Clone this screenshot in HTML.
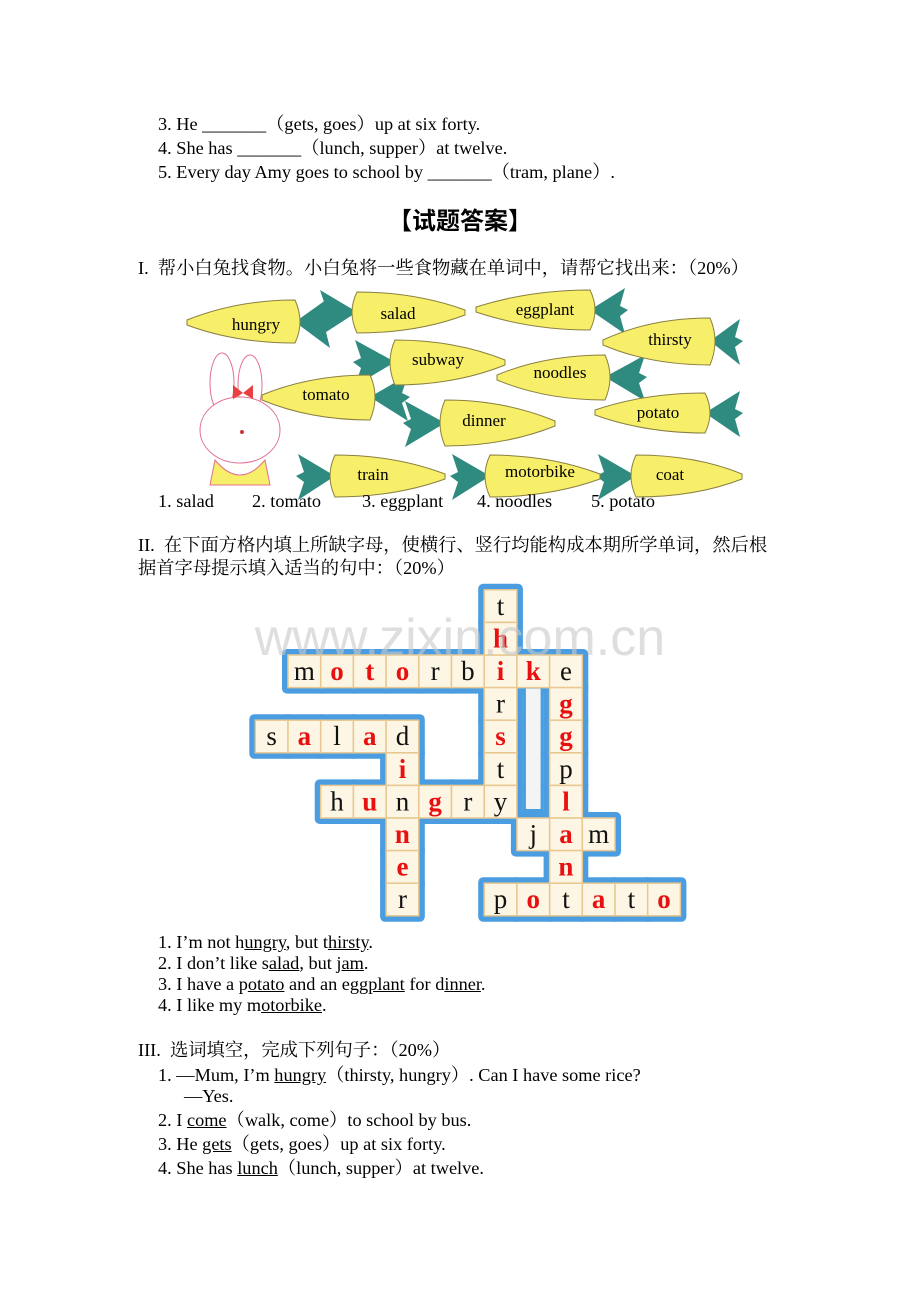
<!DOCTYPE html>
<html><head><meta charset="utf-8"><style>
body{margin:0;background:#fff;width:920px;height:1302px;position:relative;overflow:hidden;font-family:"Liberation Serif","Noto Serif CJK SC",serif;font-size:18.3px;color:#000}
.t{position:absolute;white-space:nowrap;line-height:20px}
u{text-decoration:underline}
</style></head><body>
<div class="t" style="left:158px;top:114px">3. He _______（gets, goes）up at six forty.</div>
<div class="t" style="left:158px;top:138px">4. She has _______（lunch, supper）at twelve.</div>
<div class="t" style="left:158px;top:162px">5. Every day Amy goes to school by _______（tram, plane）.</div>
<div class="t" style="left:0;width:920px;text-align:center;top:206px;font-size:24px;font-weight:bold;line-height:26px;font-family:'Noto Sans CJK SC',sans-serif">【试题答案】</div>
<div class="t" style="left:138px;top:258px">I.&nbsp; 帮小白兔找食物。小白兔将一些食物藏在单词中，请帮它找出来：（20%）</div>

<svg style="position:absolute;left:0;top:0" width="920" height="520" font-family="Liberation Serif" font-size="17">
<g fill="#2f8a80">
<path d="M295,322 l35,-25 l-5,20 l8,5 l-8,6 l5,20z"/>
<path d="M357,312 l-37,-22 l6,18 l-8,4 l8,6 l-6,18z"/>
<path d="M590,310 l35,-22 l-5,18 l8,4 l-8,6 l5,18z"/>
<path d="M710,341 l30,-22 l-5,18 l8,4 l-8,6 l5,18z"/>
<path d="M395,362 l-40,-22 l6,18 l-8,4 l8,6 l-6,18z"/>
<path d="M605,377 l40,-22 l-6,18 l8,4 l-8,6 l6,18z"/>
<path d="M370,397 l38,-22 l-6,18 l8,4 l-8,6 l6,18z"/>
<path d="M445,423 l-40,-22 l6,18 l-8,4 l8,6 l-6,18z"/>
<path d="M705,413 l35,-22 l-5,18 l8,4 l-8,6 l5,18z"/>
<path d="M335,476 l-37,-22 l6,18 l-8,4 l8,6 l-6,18z"/>
<path d="M490,476 l-38,-22 l6,18 l-8,4 l8,6 l-6,18z"/>
<path d="M636,476 l-38,-22 l6,18 l-8,4 l8,6 l-6,18z"/>
</g>
<g fill="#f7ee6a" stroke="#8a8040" stroke-width="1">
<path d="M295,300 q10,22 0,43 q-60,0 -108,-18 l0,-5 q50,-20 108,-20z"/>
<path d="M357,292 q-10,20 0,41 q60,0 108,-18 l0,-5 q-50,-18 -108,-18z"/>
<path d="M590,290 q10,20 0,40 q-60,0 -114,-18 l0,-5 q54,-17 114,-17z"/>
<path d="M710,318 q10,23 0,47 q-60,0 -107,-20 l0,-5 q47,-22 107,-22z"/>
<path d="M395,340 q-10,22 0,45 q60,0 110,-20 l0,-5 q-50,-20 -110,-20z"/>
<path d="M605,355 q10,22 0,45 q-60,0 -108,-20 l0,-5 q48,-20 108,-20z"/>
<path d="M370,375 q10,22 0,45 q-60,0 -108,-20 l0,-5 q48,-20 108,-20z"/>
<path d="M445,400 q-10,23 0,46 q60,0 110,-20 l0,-5 q-50,-21 -110,-21z"/>
<path d="M705,393 q10,20 0,40 q-60,0 -110,-18 l0,-5 q50,-17 110,-17z"/>
<path d="M335,455 q-10,21 0,42 q60,0 110,-18 l0,-5 q-50,-19 -110,-19z"/>
<path d="M490,455 q-10,21 0,42 q60,0 110,-18 l0,-5 q-50,-19 -110,-19z"/>
<path d="M636,455 q-10,21 0,42 q60,0 106,-18 l0,-5 q-46,-19 -106,-19z"/>
</g>
<g text-anchor="middle">
<text x="256" y="330">hungry</text><text x="398" y="319">salad</text>
<text x="545" y="315">eggplant</text><text x="670" y="345">thirsty</text>
<text x="438" y="365">subway</text><text x="560" y="378">noodles</text>
<text x="326" y="400">tomato</text><text x="484" y="426">dinner</text>
<text x="658" y="418">potato</text><text x="373" y="480">train</text>
<text x="540" y="477">motorbike</text><text x="670" y="480">coat</text>
</g>
<g>
<ellipse cx="222" cy="383" rx="12" ry="30" fill="#fff" stroke="#e07090"/>
<ellipse cx="250" cy="385" rx="12" ry="30" fill="#fff" stroke="#e07090"/>
<ellipse cx="240" cy="430" rx="40" ry="33" fill="#fff" stroke="#e07090"/>
<path d="M215,460 q25,30 50,0 l5,25 l-60,0z" fill="#f7ee6a" stroke="#e07090"/>
<path d="M233,385 l10,8 l10,-8 l0,14 l-10,-6 l-10,6z" fill="#e84040"/>
<circle cx="242" cy="432" r="2" fill="#c33"/>
</g>
</svg>

<div class="t" style="left:158px;top:491px">1. salad</div>
<div class="t" style="left:252px;top:491px">2. tomato</div>
<div class="t" style="left:362px;top:491px">3. eggplant</div>
<div class="t" style="left:477px;top:491px">4. noodles</div>
<div class="t" style="left:591px;top:491px">5. potato</div>
<div class="t" style="left:138px;top:535px">II.&nbsp; 在下面方格内填上所缺字母，使横行、竖行均能构成本期所学单词，然后根</div>
<div class="t" style="left:138px;top:558px">据首字母提示填入适当的句中：（20%）</div>

<svg style="position:absolute;left:0;top:0" width="920" height="1302" font-family="Liberation Serif" font-size="27" font-weight="bold">
<g id="cw"></g>
<text x="460" y="655" text-anchor="middle" font-family="Liberation Sans" font-size="52" font-weight="normal" fill="#c8c8c8" fill-opacity="0.6">www.zixin.com.cn</text>
</svg>
<script>
(function(){
var cells=[
[0,0,'m',0],[1,0,'o',1],[2,0,'t',1],[3,0,'o',1],[4,0,'r',0],[5,0,'b',0],[6,0,'i',1],[7,0,'k',1],[8,0,'e',0],
[6,-2,'t',0],[6,-1,'h',1],[6,1,'r',0],[6,2,'s',1],[6,3,'t',0],[6,4,'y',0],
[-1,2,'s',0],[0,2,'a',1],[1,2,'l',0],[2,2,'a',1],[3,2,'d',0],
[3,3,'i',1],[3,4,'n',0],[3,5,'n',1],[3,6,'e',1],[3,7,'r',0],
[1,4,'h',0],[2,4,'u',1],[4,4,'g',1],[5,4,'r',0],
[8,1,'g',1],[8,2,'g',1],[8,3,'p',0],[8,4,'l',1],[8,5,'a',1],[8,6,'n',1],[8,7,'t',0],
[7,5,'j',0],[9,5,'m',0],
[6,7,'p',0],[7,7,'o',1],[9,7,'a',1],[10,7,'t',0],[11,7,'o',1]];
var W=32.7,H=32.6,X0=288,Y0=655,s='';
function px(c){return X0+c*W} function py(r){return Y0+r*H}
cells.forEach(function(a){s+='<rect x="'+(px(a[0])-6)+'" y="'+(py(a[1])-6)+'" width="'+(W+12)+'" height="'+(H+12)+'" rx="5" fill="#4a9de0"/>';});
s+='<rect x="'+(px(7)+6)+'" y="'+(py(1)-2)+'" width="'+(W-12)+'" height="'+(4*H-4)+'" fill="#4a9de0"/><rect x="'+(px(7)+9)+'" y="'+(py(1)+1)+'" width="'+(W-18)+'" height="'+(4*H-10)+'" fill="#f4f4f4"/>';
cells.forEach(function(a){s+='<rect x="'+px(a[0])+'" y="'+py(a[1])+'" width="'+W+'" height="'+H+'" fill="#fdf6e4" stroke="#e8c890" stroke-width="1.5"/>';
s+='<text x="'+(px(a[0])+W/2)+'" y="'+(py(a[1])+25)+'" text-anchor="middle" fill="'+(a[3]?'#e81010':'#111')+'"'+(a[3]?'':' font-weight="normal"')+'>'+a[2]+'</text>';});
document.getElementById('cw').innerHTML=s;
})();
</script>

<div class="t" style="left:158px;top:932px">1. I’m not h<u>ungry</u>, but t<u>hirsty</u>.</div>
<div class="t" style="left:158px;top:953px">2. I don’t like s<u>alad</u>, but j<u>am</u>.</div>
<div class="t" style="left:158px;top:974px">3. I have a p<u>otato</u> and an e<u>ggplant</u> for d<u>inner</u>.</div>
<div class="t" style="left:158px;top:995px">4. I like my m<u>otorbike</u>.</div>
<div class="t" style="left:138px;top:1040px">III.&nbsp; 选词填空，完成下列句子：（20%）</div>
<div class="t" style="left:158px;top:1065px">1. —Mum, I’m <u>hungry</u>（thirsty, hungry）. Can I have some rice?</div>
<div class="t" style="left:184px;top:1086px">—Yes.</div>
<div class="t" style="left:158px;top:1110px">2. I <u>come</u>（walk, come）to school by bus.</div>
<div class="t" style="left:158px;top:1134px">3. He <u>gets</u>（gets, goes）up at six forty.</div>
<div class="t" style="left:158px;top:1158px">4. She has <u>lunch</u>（lunch, supper）at twelve.</div>
</body></html>
